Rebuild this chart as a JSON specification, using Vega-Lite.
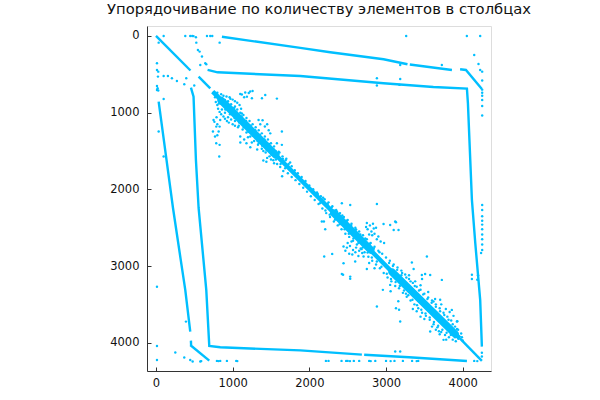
{"$schema":"https://vega.github.io/schema/vega-lite/v6.json","width":344,"height":345,"autosize":"none","padding":{"left":147,"top":26,"right":109,"bottom":29},"background":"white","title":{"text":"Упорядочивание по количеству элементов в столбцах","font":"DejaVu Sans","fontSize":14.75,"fontWeight":"normal","color":"#111111","anchor":"middle","offset":9},
"datasets":{"lines":[
{"s":"a","x":0,"y":0},{"s":"a","x":450,"y":450},
{"s":"b","x":860,"y":10},{"s":"b","x":1882,"y":156},{"s":"b","x":2272,"y":213},{"s":"b","x":2968,"y":304},{"s":"b","x":3280,"y":369},
{"s":"b2","x":3310,"y":372},{"s":"b2","x":3860,"y":443},
{"s":"b3","x":3966,"y":434},{"s":"b3","x":4042,"y":443},{"s":"b3","x":4250,"y":691},
{"s":"c","x":673,"y":443},{"s":"c","x":803,"y":474},{"s":"c","x":1882,"y":522},{"s":"c","x":2968,"y":617},{"s":"c","x":3617,"y":665},{"s":"c","x":4055,"y":687},{"s":"c","x":4068,"y":876},{"s":"c","x":4120,"y":2138},{"s":"c","x":4164,"y":2702},{"s":"c","x":4228,"y":3442},{"s":"c","x":4250,"y":4051},
{"s":"d","x":35,"y":857},{"s":"d","x":130,"y":1560},{"s":"d","x":222,"y":2243},{"s":"d","x":320,"y":2900},{"s":"d","x":382,"y":3312},{"s":"d","x":447,"y":3855},
{"s":"d2","x":456,"y":3973},{"s":"d2","x":458,"y":4030},
{"s":"e","x":447,"y":4030},{"s":"e","x":695,"y":4234},
{"s":"f","x":456,"y":674},{"s":"f","x":490,"y":791},{"s":"f","x":521,"y":1617},{"s":"f","x":556,"y":2243},{"s":"f","x":656,"y":3312},{"s":"f","x":695,"y":4042},{"s":"f","x":838,"y":4060},{"s":"f","x":1882,"y":4100},{"s":"f","x":2685,"y":4155},{"s":"f2","x":2715,"y":4158},{"s":"f2","x":3300,"y":4190},{"s":"f2","x":4055,"y":4238},
{"s":"g","x":556,"y":530},{"s":"g","x":708,"y":683},
{"s":"h","x":740,"y":725},{"s":"h","x":1500,"y":1490},{"s":"h","x":2272,"y":2260},{"s":"h","x":3095,"y":3094},{"s":"h","x":3617,"y":3616},{"s":"h","x":3960,"y":3940},
{"s":"i","x":3960,"y":3940},{"s":"i","x":4250,"y":4238},
{"s":"j1","x":850,"y":840},{"s":"j1","x":1560,"y":1550},
{"s":"j2","x":2320,"y":2310},{"s":"j2","x":2800,"y":2790},
{"s":"j3","x":3080,"y":3080},{"s":"j3","x":3900,"y":3885}
],"pts":[
{"x":382,"y":0},{"x":447,"y":0},{"x":473,"y":0},{"x":490,"y":2},{"x":521,"y":17},{"x":665,"y":0},{"x":708,"y":0},{"x":734,"y":0},{"x":830,"y":87},{"x":100,"y":0},{"x":35,"y":87},{"x":526,"y":87},{"x":547,"y":182},{"x":569,"y":204},{"x":600,"y":269},{"x":578,"y":378},{"x":643,"y":356},{"x":656,"y":369},{"x":13,"y":356},{"x":13,"y":443},{"x":30,"y":465},{"x":26,"y":530},{"x":100,"y":521},{"x":156,"y":521},{"x":208,"y":552},{"x":273,"y":586},{"x":369,"y":630},{"x":395,"y":551},{"x":499,"y":647},{"x":13,"y":651},{"x":13,"y":704},{"x":30,"y":712},{"x":21,"y":682},{"x":100,"y":821},{"x":35,"y":1247},{"x":100,"y":1573},{"x":13,"y":3270},
{"x":1099,"y":756},{"x":1164,"y":738},{"x":1229,"y":725},{"x":1260,"y":717},{"x":1186,"y":791},{"x":1251,"y":812},{"x":1425,"y":769},{"x":1382,"y":812},{"x":1577,"y":817},{"x":1120,"y":762},{"x":1210,"y":745},{"x":1150,"y":800},
{"x":751,"y":1095},{"x":786,"y":1182},{"x":830,"y":1182},{"x":743,"y":1247},{"x":817,"y":1247},{"x":838,"y":1095},{"x":786,"y":1399},{"x":830,"y":1420},{"x":825,"y":1573},{"x":770,"y":1310},{"x":800,"y":1295},{"x":762,"y":1120},{"x":790,"y":1060},{"x":800,"y":1150},
{"x":1099,"y":1312},{"x":1150,"y":1350},{"x":1200,"y":1320},{"x":1250,"y":1390},{"x":1300,"y":1330},{"x":1340,"y":1400},{"x":1100,"y":1390},{"x":1180,"y":1400},{"x":1230,"y":1450},{"x":1320,"y":1480},{"x":1400,"y":1625},{"x":1440,"y":1640},{"x":1645,"y":1830},
{"x":1338,"y":1095},{"x":1390,"y":1100},{"x":1420,"y":1180},{"x":1470,"y":1230},{"x":1490,"y":1270},{"x":1360,"y":1150},{"x":1450,"y":1150},{"x":1642,"y":1247},{"x":1577,"y":1400},{"x":1642,"y":1420},{"x":1700,"y":1600},{"x":1750,"y":1650},{"x":1560,"y":1500},{"x":1610,"y":1520},
{"x":880,"y":780},{"x":920,"y":790},{"x":960,"y":800},{"x":1000,"y":830},{"x":1030,"y":850},{"x":1060,"y":870},{"x":1090,"y":900},{"x":1110,"y":950},{"x":1030,"y":920},{"x":970,"y":820},{"x":1075,"y":1020},{"x":1120,"y":1010},
{"x":780,"y":860},{"x":800,"y":900},{"x":810,"y":950},{"x":830,"y":990},{"x":850,"y":1020},{"x":880,"y":1050},{"x":900,"y":1080},{"x":925,"y":1110},{"x":950,"y":1130},{"x":860,"y":960},{"x":900,"y":1000},{"x":820,"y":880},{"x":940,"y":1060},{"x":980,"y":1090},{"x":1000,"y":1150},{"x":1030,"y":1170},{"x":1070,"y":1190},
{"x":800,"y":740},{"x":850,"y":760},{"x":900,"y":835},{"x":940,"y":850},{"x":980,"y":890},{"x":1020,"y":940},{"x":1060,"y":960},{"x":1100,"y":1000},{"x":1140,"y":1030},{"x":1180,"y":1070},{"x":1220,"y":1110},{"x":1260,"y":1150},{"x":1300,"y":1190},{"x":1340,"y":1230},{"x":1380,"y":1270},{"x":1420,"y":1310},{"x":1460,"y":1350},{"x":1500,"y":1400},{"x":1540,"y":1440},
{"x":1030,"y":1110},{"x":1080,"y":1170},{"x":1130,"y":1220},{"x":1180,"y":1260},{"x":1230,"y":1310},{"x":1280,"y":1370},{"x":1330,"y":1420},{"x":1380,"y":1470},{"x":1430,"y":1520},{"x":1480,"y":1570},{"x":1530,"y":1620},{"x":1580,"y":1670},{"x":1620,"y":1710},{"x":1660,"y":1760},{"x":1400,"y":1500},{"x":1450,"y":1590},{"x":1500,"y":1610},{"x":1540,"y":1660},
{"x":1600,"y":1510},{"x":1650,"y":1570},{"x":1690,"y":1620},{"x":1730,"y":1670},{"x":1770,"y":1700},{"x":1810,"y":1750},{"x":1850,"y":1790},{"x":1900,"y":1840},{"x":1950,"y":1890},{"x":2000,"y":1950},{"x":2050,"y":2000},{"x":2100,"y":2040},{"x":2150,"y":2090},{"x":2200,"y":2130},{"x":2250,"y":2170},{"x":2300,"y":2220},{"x":2350,"y":2270},{"x":2400,"y":2310},{"x":2450,"y":2360},{"x":2500,"y":2400},{"x":2550,"y":2450},{"x":2600,"y":2500},
{"x":1720,"y":1790},{"x":1770,"y":1840},{"x":1820,"y":1880},{"x":1870,"y":1930},{"x":1920,"y":1980},{"x":1970,"y":2030},{"x":2020,"y":2090},{"x":2070,"y":2140},{"x":2120,"y":2190},{"x":2170,"y":2250},{"x":2220,"y":2310},{"x":2270,"y":2360},{"x":2320,"y":2420},{"x":2370,"y":2470},{"x":2420,"y":2520},{"x":2470,"y":2580},{"x":2520,"y":2620},{"x":2570,"y":2670},{"x":2620,"y":2720},{"x":2670,"y":2770},{"x":2720,"y":2820},{"x":2770,"y":2880},{"x":2820,"y":2930},{"x":2870,"y":2980},{"x":2920,"y":3030},{"x":2970,"y":3090},{"x":3020,"y":3150},
{"x":2650,"y":2550},{"x":2700,"y":2600},{"x":2750,"y":2650},{"x":2800,"y":2700},{"x":2850,"y":2750},{"x":2900,"y":2800},{"x":2950,"y":2840},{"x":3000,"y":2890},{"x":3050,"y":2930},{"x":3100,"y":2980},{"x":3150,"y":3020},{"x":3200,"y":3060},{"x":3250,"y":3110},{"x":3300,"y":3170},{"x":3350,"y":3220},{"x":3400,"y":3270},{"x":3450,"y":3310},{"x":3500,"y":3360},{"x":3550,"y":3410},{"x":3600,"y":3450},{"x":3650,"y":3500},{"x":3700,"y":3550},{"x":3750,"y":3610},{"x":3800,"y":3660},{"x":3850,"y":3710},{"x":3900,"y":3790},{"x":3940,"y":3830},{"x":3980,"y":3880},
{"x":3070,"y":3200},{"x":3120,"y":3260},{"x":3170,"y":3290},{"x":3220,"y":3350},{"x":3270,"y":3400},{"x":3320,"y":3450},{"x":3370,"y":3500},{"x":3420,"y":3550},{"x":3470,"y":3610},{"x":3520,"y":3650},{"x":3570,"y":3700},{"x":3620,"y":3760},{"x":3670,"y":3800},{"x":3720,"y":3860},{"x":3770,"y":3900},{"x":3820,"y":3930},{"x":3870,"y":3960},{"x":3910,"y":3980},{"x":3650,"y":3830},{"x":3700,"y":3890},{"x":3600,"y":3790},{"x":3500,"y":3690},{"x":3450,"y":3660},{"x":3400,"y":3590},{"x":3350,"y":3560},
{"x":3200,"y":3120},{"x":3300,"y":3120},{"x":3380,"y":3200},{"x":3450,"y":3250},{"x":3550,"y":3340},{"x":3640,"y":3430},{"x":3720,"y":3500},{"x":3780,"y":3560},{"x":3830,"y":3600},{"x":3880,"y":3650},{"x":3930,"y":3720},
{"x":770,"y":800},{"x":810,"y":780},{"x":845,"y":880},{"x":875,"y":850},{"x":905,"y":960},{"x":935,"y":890},{"x":965,"y":1020},{"x":995,"y":940},{"x":1025,"y":1070},{"x":1055,"y":1000},{"x":1085,"y":1130},{"x":1115,"y":1050},{"x":1145,"y":1190},{"x":1175,"y":1110},{"x":1205,"y":1250},{"x":1235,"y":1170},{"x":1265,"y":1300},{"x":1295,"y":1230},{"x":1325,"y":1370},{"x":1355,"y":1290},{"x":1385,"y":1430},{"x":1415,"y":1350},{"x":1445,"y":1490},{"x":1475,"y":1410},{"x":1505,"y":1550},{"x":1535,"y":1480},{"x":1565,"y":1610},{"x":1595,"y":1540},{"x":1625,"y":1670},{"x":1655,"y":1600},{"x":1685,"y":1725},
{"x":2110,"y":2060},{"x":2140,"y":2180},{"x":2180,"y":2110},{"x":2210,"y":2275},{"x":2240,"y":2190},{"x":2265,"y":2330},{"x":2290,"y":2235},{"x":2335,"y":2395},{"x":2360,"y":2290},{"x":2395,"y":2455},{"x":2430,"y":2340},{"x":2460,"y":2520},{"x":2490,"y":2410},{"x":2515,"y":2580},{"x":2545,"y":2470},{"x":2575,"y":2640},{"x":2610,"y":2525},{"x":2640,"y":2700},{"x":2665,"y":2590},{"x":2695,"y":2760},{"x":2730,"y":2640},{"x":2760,"y":2825},{"x":2790,"y":2710},{"x":2815,"y":2890},{"x":2840,"y":2770},{"x":2880,"y":2940},{"x":2915,"y":2820},{"x":2940,"y":3010},
{"x":3010,"y":3100},{"x":3040,"y":2960},{"x":3065,"y":3170},{"x":3090,"y":3000},{"x":3125,"y":3210},{"x":3145,"y":3050},{"x":3180,"y":3260},{"x":3210,"y":3090},{"x":3235,"y":3320},{"x":3265,"y":3150},{"x":3290,"y":3380},{"x":3320,"y":3200},{"x":3345,"y":3440},{"x":3375,"y":3260},{"x":3405,"y":3510},{"x":3430,"y":3320},{"x":3460,"y":3570},{"x":3485,"y":3370},{"x":3515,"y":3620},{"x":3540,"y":3430},{"x":3570,"y":3670},{"x":3595,"y":3480},{"x":3625,"y":3730},{"x":3650,"y":3530},{"x":3680,"y":3780},{"x":3705,"y":3590},{"x":3735,"y":3830},{"x":3760,"y":3640},{"x":3790,"y":3870},{"x":3815,"y":3700},{"x":3845,"y":3900},{"x":3870,"y":3760},{"x":3900,"y":3930},{"x":3925,"y":3820},{"x":3945,"y":3950},{"x":3990,"y":3930},{"x":4000,"y":3970},
{"x":2424,"y":2181},{"x":2533,"y":2203},{"x":2881,"y":2190},{"x":2163,"y":2420},{"x":2207,"y":2520},{"x":2190,"y":2420},{"x":2750,"y":2440},{"x":2790,"y":2470},{"x":2830,"y":2450},{"x":2870,"y":2500},{"x":2760,"y":2520},{"x":2810,"y":2550},{"x":2850,"y":2580},{"x":2900,"y":2616},{"x":2780,"y":2590},{"x":2740,"y":2490},{"x":2820,"y":2600},{"x":2840,"y":2510},{"x":2968,"y":2451},{"x":3054,"y":2464},{"x":3120,"y":2420},{"x":3130,"y":2430},{"x":3163,"y":2529},{"x":3100,"y":2529},{"x":2880,"y":2650},{"x":2930,"y":2680},{"x":2975,"y":2700},
{"x":2446,"y":2746},{"x":2490,"y":2760},{"x":2530,"y":2740},{"x":2570,"y":2790},{"x":2610,"y":2760},{"x":2650,"y":2800},{"x":2690,"y":2830},{"x":2707,"y":2877},{"x":2470,"y":2800},{"x":2520,"y":2840},{"x":2560,"y":2850},{"x":2600,"y":2820},{"x":2640,"y":2870},{"x":2680,"y":2780},{"x":2500,"y":2700},{"x":2550,"y":2680},{"x":2194,"y":2877},{"x":2298,"y":2842},{"x":2424,"y":3103},{"x":2440,"y":3115},{"x":2533,"y":3138},{"x":2533,"y":3165},{"x":2446,"y":2964},{"x":2598,"y":2942},{"x":2750,"y":3040},{"x":2850,"y":3030},{"x":2780,"y":2960},
{"x":3533,"y":2877},{"x":3337,"y":2955},{"x":3360,"y":3040},{"x":3467,"y":3116},{"x":3510,"y":3105},{"x":3576,"y":3116},{"x":3470,"y":3170},{"x":3728,"y":3181},{"x":3054,"y":3246},{"x":3060,"y":3330},{"x":2959,"y":3311},{"x":2881,"y":3529},{"x":3160,"y":3460},{"x":3130,"y":3550},{"x":3185,"y":3724},{"x":3170,"y":3570},{"x":3619,"y":3463},{"x":3706,"y":3440},{"x":3858,"y":3572},{"x":3924,"y":3724},{"x":3576,"y":3855},{"x":3750,"y":3963},{"x":3690,"y":3850},{"x":3785,"y":3960},{"x":3260,"y":3360},
{"x":3263,"y":0},{"x":4054,"y":0},{"x":4228,"y":0},{"x":4150,"y":247},{"x":4206,"y":365},{"x":4228,"y":443},{"x":4254,"y":465},{"x":4254,"y":582},{"x":4254,"y":700},{"x":4254,"y":740},{"x":4254,"y":780},{"x":4254,"y":834},{"x":4254,"y":912},{"x":4254,"y":1038},{"x":3728,"y":378},{"x":3185,"y":378},{"x":2881,"y":552},{"x":2881,"y":647},{"x":3185,"y":560},{"x":3176,"y":638},
{"x":4254,"y":2203},{"x":4254,"y":2270},{"x":4254,"y":2350},{"x":4254,"y":2410},{"x":4254,"y":2460},{"x":4254,"y":2520},{"x":4254,"y":2590},{"x":4254,"y":2650},{"x":4254,"y":2720},{"x":4254,"y":2790},{"x":4240,"y":2830},{"x":4120,"y":3115},{"x":4120,"y":3170},{"x":4190,"y":3180},{"x":4200,"y":3120},{"x":4250,"y":4130},{"x":4250,"y":4180},
{"x":13,"y":4042},{"x":252,"y":4129},{"x":369,"y":4194},{"x":13,"y":4225},{"x":447,"y":4225},{"x":478,"y":4246},{"x":578,"y":4246},{"x":590,"y":4240},{"x":391,"y":3725},{"x":795,"y":4237},{"x":815,"y":4240},{"x":838,"y":4237},{"x":925,"y":4237},{"x":1047,"y":4237},{"x":1060,"y":4240},{"x":2216,"y":4237},
{"x":2250,"y":4237},{"x":2420,"y":4237},{"x":2480,"y":4237},{"x":2500,"y":4237},{"x":2530,"y":4240},{"x":2580,"y":4237},{"x":2650,"y":4237},{"x":2780,"y":4237},{"x":2800,"y":4240},{"x":2860,"y":4237},{"x":3000,"y":4237},{"x":3060,"y":4240},{"x":3110,"y":4237},{"x":3220,"y":4237},{"x":3340,"y":4237},{"x":3400,"y":4240},{"x":3420,"y":4237},{"x":4150,"y":4237},{"x":4190,"y":4240},{"x":3120,"y":4115},{"x":3185,"y":4115}
]},
"layer":[
{"data":{"name":"lines"},"transform":[{"filter":"datum.s!='j1'&&datum.s!='j2'&&datum.s!='j3'"}],"mark":{"type":"line","color":"#00BFFF","strokeWidth":2.4,"strokeCap":"butt","clip":true},"encoding":{"x":{"field":"x","type":"quantitative","scale":{"domain":[-117,4369],"nice":false,"zero":false},"axis":{"values":[0,1000,2000,3000,4000],"format":"d","title":null,"grid":false,"domain":true,"domainColor":"#333333","domainWidth":1,"tickColor":"#333333","tickSize":-4,"labelPadding":10,"labelFont":"DejaVu Sans","labelFontSize":11.5,"labelColor":"#111111"}},"y":{"field":"y","type":"quantitative","scale":{"domain":[4369,-130],"nice":false,"zero":false},"axis":{"values":[0,1000,2000,3000,4000],"format":"d","title":null,"grid":false,"domain":true,"domainColor":"#333333","domainWidth":1,"tickColor":"#333333","tickSize":-4,"labelPadding":12,"labelFont":"DejaVu Sans","labelFontSize":11.5,"labelColor":"#111111"}},"detail":{"field":"s"}}},
{"data":{"name":"lines"},"transform":[{"filter":"datum.s=='h'"}],"mark":{"type":"line","color":"#00BFFF","strokeWidth":4.5,"strokeCap":"butt"},"encoding":{"x":{"field":"x","type":"quantitative"},"y":{"field":"y","type":"quantitative"}}},
{"data":{"name":"lines"},"transform":[{"filter":"datum.s=='j1'||datum.s=='j2'||datum.s=='j3'"}],"mark":{"type":"line","color":"#00BFFF","strokeWidth":7.5,"strokeCap":"round"},"encoding":{"x":{"field":"x","type":"quantitative"},"y":{"field":"y","type":"quantitative"},"detail":{"field":"s"}}},
{"data":{"name":"pts"},"mark":{"type":"circle","color":"#00BFFF","size":6,"opacity":1},"encoding":{"x":{"field":"x","type":"quantitative"},"y":{"field":"y","type":"quantitative"}}}
]}
